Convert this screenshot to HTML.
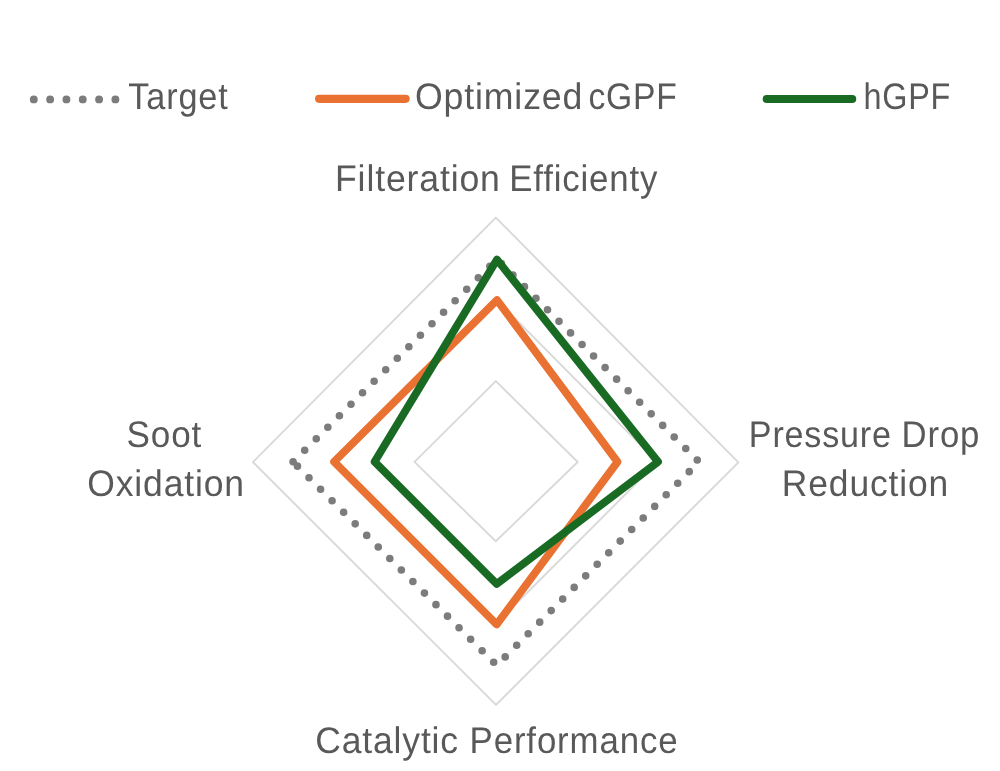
<!DOCTYPE html>
<html><head><meta charset="utf-8"><title>Radar chart</title>
<style>
html,body{margin:0;padding:0;background:#fff;}
svg{display:block;}
text{font-family:"Liberation Sans",sans-serif;fill:#595959;text-rendering:geometricPrecision;letter-spacing:0.9px;}
</style></head>
<body>
<svg width="1000" height="771" viewBox="0 0 1000 771">
<rect width="1000" height="771" fill="#fff"/>
<g id="grid">
<polygon points="495.8,381.1 577.7,462.0 495.8,541.3 414.5,461.9" fill="none" stroke="#d9d9d9" stroke-width="1.9" stroke-linejoin="round"/>
<polygon points="495.80,299.03 657.53,462.17 495.93,623.90 333.87,462.03" fill="none" stroke="#d9d9d9" stroke-width="1.9" stroke-linejoin="round"/>
<polygon points="495.80,217.60 738.40,462.30 496.00,704.90 252.90,462.10" fill="none" stroke="#d9d9d9" stroke-width="1.9" stroke-linejoin="round"/>
</g>
<g id="series" fill="none" stroke-linejoin="round" stroke-linecap="round">
<polygon points="293.11,461.80 497.00,259.11 698.99,461.80 496.75,665.39" stroke="#7c7c7c" stroke-width="7.6" stroke-dasharray="0 16.32"/>
<polygon points="497.00,300.10 617.50,461.80 496.75,624.40 334.10,461.80" stroke="#e97132" stroke-width="7.8"/>
<polygon points="497.00,259.60 658.00,461.80 496.75,583.90 374.60,461.80" stroke="#196b24" stroke-width="7.8"/>
</g>
<g id="legend" fill="none" stroke-linecap="round">
<line x1="33.8" y1="99.4" x2="116" y2="99.4" stroke="#7c7c7c" stroke-width="7.9" stroke-dasharray="0 16.32"/>
<line x1="319.1" y1="98.8" x2="405.6" y2="98.8" stroke="#e97132" stroke-width="8.2"/>
<line x1="766.7" y1="99.0" x2="852.2" y2="99.0" stroke="#196b24" stroke-width="8.1"/>
</g>
<g id="labels">
<text y="109" font-size="37"><tspan x="128.35" textLength="100.21" lengthAdjust="spacingAndGlyphs">Target</tspan></text>
<text y="109" font-size="37"><tspan x="414.96" textLength="168.28" lengthAdjust="spacingAndGlyphs">Optimized</tspan> <tspan x="588.41" textLength="89.26" lengthAdjust="spacingAndGlyphs">cGPF</tspan></text>
<text y="109" font-size="37"><tspan x="863.39" textLength="87.74" lengthAdjust="spacingAndGlyphs">hGPF</tspan></text>
<text y="191" font-size="37"><tspan x="335.02" textLength="165.77" lengthAdjust="spacingAndGlyphs">Filteration</tspan> <tspan x="509.15" textLength="149.23" lengthAdjust="spacingAndGlyphs">Efficienty</tspan></text>
<text y="447" font-size="37"><tspan x="126.59" textLength="75.63" lengthAdjust="spacingAndGlyphs">Soot</tspan></text>
<text y="496" font-size="37"><tspan x="87.27" textLength="157.62" lengthAdjust="spacingAndGlyphs">Oxidation</tspan></text>
<text y="447" font-size="37"><tspan x="748.86" textLength="142.93" lengthAdjust="spacingAndGlyphs">Pressure</tspan> <tspan x="901.56" textLength="78.70" lengthAdjust="spacingAndGlyphs">Drop</tspan></text>
<text y="496" font-size="37"><tspan x="781.87" textLength="167.16" lengthAdjust="spacingAndGlyphs">Reduction</tspan></text>
<text y="753" font-size="37"><tspan x="315.19" textLength="143.77" lengthAdjust="spacingAndGlyphs">Catalytic</tspan> <tspan x="469.62" textLength="208.77" lengthAdjust="spacingAndGlyphs">Performance</tspan></text>
</g>
</svg>
</body></html>
